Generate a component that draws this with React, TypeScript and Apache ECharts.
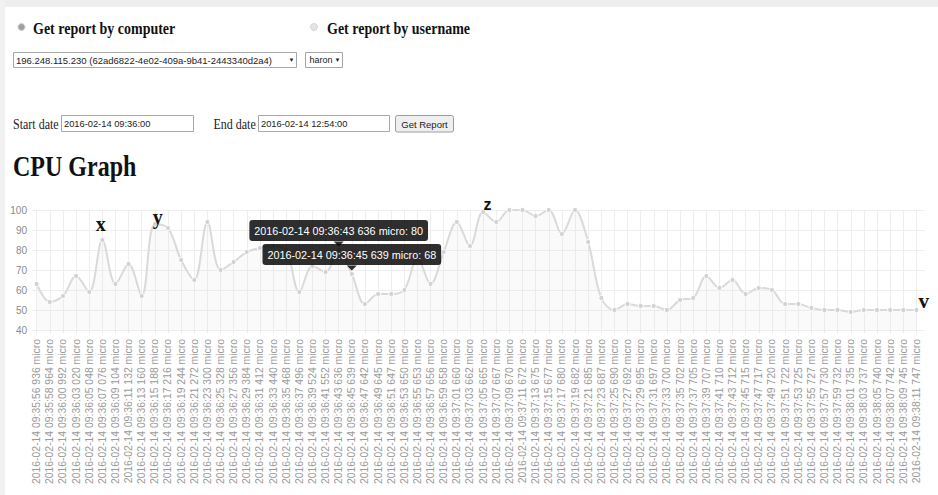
import React, { useEffect, useRef } from "react";
import * as echarts from "echarts";

const categories: string[] = [
  "2016-02-14 09:35:56 936 micro",
  "2016-02-14 09:35:58 964 micro",
  "2016-02-14 09:36:00 992 micro",
  "2016-02-14 09:36:03 020 micro",
  "2016-02-14 09:36:05 048 micro",
  "2016-02-14 09:36:07 076 micro",
  "2016-02-14 09:36:09 104 micro",
  "2016-02-14 09:36:11 132 micro",
  "2016-02-14 09:36:13 160 micro",
  "2016-02-14 09:36:15 188 micro",
  "2016-02-14 09:36:17 216 micro",
  "2016-02-14 09:36:19 244 micro",
  "2016-02-14 09:36:21 272 micro",
  "2016-02-14 09:36:23 300 micro",
  "2016-02-14 09:36:25 328 micro",
  "2016-02-14 09:36:27 356 micro",
  "2016-02-14 09:36:29 384 micro",
  "2016-02-14 09:36:31 412 micro",
  "2016-02-14 09:36:33 440 micro",
  "2016-02-14 09:36:35 468 micro",
  "2016-02-14 09:36:37 496 micro",
  "2016-02-14 09:36:39 524 micro",
  "2016-02-14 09:36:41 552 micro",
  "2016-02-14 09:36:43 636 micro",
  "2016-02-14 09:36:45 639 micro",
  "2016-02-14 09:36:47 642 micro",
  "2016-02-14 09:36:49 645 micro",
  "2016-02-14 09:36:51 647 micro",
  "2016-02-14 09:36:53 650 micro",
  "2016-02-14 09:36:55 653 micro",
  "2016-02-14 09:36:57 656 micro",
  "2016-02-14 09:36:59 658 micro",
  "2016-02-14 09:37:01 660 micro",
  "2016-02-14 09:37:03 662 micro",
  "2016-02-14 09:37:05 665 micro",
  "2016-02-14 09:37:07 667 micro",
  "2016-02-14 09:37:09 670 micro",
  "2016-02-14 09:37:11 672 micro",
  "2016-02-14 09:37:13 675 micro",
  "2016-02-14 09:37:15 677 micro",
  "2016-02-14 09:37:17 680 micro",
  "2016-02-14 09:37:19 682 micro",
  "2016-02-14 09:37:21 685 micro",
  "2016-02-14 09:37:23 687 micro",
  "2016-02-14 09:37:25 690 micro",
  "2016-02-14 09:37:27 692 micro",
  "2016-02-14 09:37:29 695 micro",
  "2016-02-14 09:37:31 697 micro",
  "2016-02-14 09:37:33 700 micro",
  "2016-02-14 09:37:35 702 micro",
  "2016-02-14 09:37:37 705 micro",
  "2016-02-14 09:37:39 707 micro",
  "2016-02-14 09:37:41 710 micro",
  "2016-02-14 09:37:43 712 micro",
  "2016-02-14 09:37:45 715 micro",
  "2016-02-14 09:37:47 717 micro",
  "2016-02-14 09:37:49 720 micro",
  "2016-02-14 09:37:51 722 micro",
  "2016-02-14 09:37:53 725 micro",
  "2016-02-14 09:37:55 727 micro",
  "2016-02-14 09:37:57 730 micro",
  "2016-02-14 09:37:59 732 micro",
  "2016-02-14 09:38:01 735 micro",
  "2016-02-14 09:38:03 737 micro",
  "2016-02-14 09:38:05 740 micro",
  "2016-02-14 09:38:07 742 micro",
  "2016-02-14 09:38:09 745 micro",
  "2016-02-14 09:38:11 747 micro",
];

const cpuValues: number[] = [
  63, 54, 57, 67, 59, 85, 63, 73, 57, 93,
  91, 75, 65, 94, 70, 74, 79, 81, 82, 80,
  59, 72, 69, 80, 68, 53, 58, 58, 60, 76,
  63, 79, 94, 82, 99, 94, 100, 100, 97, 100,
  88, 100, 84, 56, 50, 53, 52, 52, 50, 55,
  56, 67, 61, 65, 58, 61, 60, 53, 53, 51,
  50, 50, 49, 50, 50, 50, 50, 50,
];

const yMin = 40;
const yMax = 100;
const yStep = 10;

// indices of points whose hover tooltips are shown in the screenshot
const tooltipIndices: number[] = [23, 24];

const computerOption = "196.248.115.230 (62ad6822-4e02-409a-9b41-2443340d2a4)";
const userOption = "haron";
const startDate = "2016-02-14 09:36:00";
const endDate = "2016-02-14 12:54:00";

const SERIF = '"Liberation Serif", "Times New Roman", serif';
const SANS = '"Liberation Sans", Arial, Helvetica, sans-serif';

function txt(text: string, x: number, y: number, font: string, fill = "#111", extra: any = {}) {
  const align = extra.align || "left";
  const e = { ...extra };
  delete e.align;
  return {
    type: "text",
    x,
    y,
    z: 50,
    style: {
      text,
      font,
      fill,
      align,
      textAlign: align,
      verticalAlign: "middle",
      textVerticalAlign: "middle",
    },
    ...e,
  };
}

function box(x: number, y: number, w: number, h: number, fill: string, stroke: string, r = 0) {
  return {
    type: "rect",
    z: 40,
    shape: { x, y, width: w, height: h, r },
    style: { fill, stroke, lineWidth: 1 },
  };
}

export default function App() {
  const ref = useRef<HTMLDivElement>(null);

  useEffect(() => {
    if (!ref.current) return;
    const chart = echarts.init(ref.current, null, { renderer: "svg" });

    const seriesData = cpuValues.map((v, i) =>
      tooltipIndices.includes(i)
        ? {
            value: v,
            label: {
              show: true,
              position: "top",
              distance: 6,
              formatter: `${categories[i]}: ${v}`,
              backgroundColor: "rgba(0,0,0,0.82)",
              color: "#fff",
              fontSize: 10.8,
              fontFamily: SANS,
              lineHeight: 13,
              padding: [4, 5],
              borderRadius: 3,
            },
          }
        : v
    );

    const caretData = tooltipIndices.map((i) => ({
      coord: [categories[i], cpuValues[i]],
      symbol: "triangle",
      symbolRotate: 180,
      symbolSize: [10, 5],
      symbolOffset: [0, -6],
      itemStyle: { color: "rgba(0,0,0,0.82)" },
      label: { show: false },
    }));

    const stretch = { scaleY: 1.18 };

    const graphics: any[] = [
      { type: "rect", z: 1, shape: { x: 0, y: 0, width: 938, height: 7 }, style: { fill: "#eeeeee" } },
      { type: "rect", z: 1, shape: { x: 0, y: 0, width: 5, height: 495 }, style: { fill: "#f1f1f1" } },
      // radios
      { type: "circle", z: 40, shape: { cx: 21.5, cy: 27, r: 3.5 }, style: { fill: "#a0a0a0", stroke: "#d0d0d0", lineWidth: 1 } },
      { type: "circle", z: 40, shape: { cx: 314, cy: 27, r: 3.5 }, style: { fill: "#e4e4e4", stroke: "#d6d6d6", lineWidth: 1 } },
      txt("Get report by computer", 33, 28.5, `bold 14px ${SERIF}`, "#111", stretch),
      txt("Get report by username", 327, 28.5, `bold 14px ${SERIF}`, "#111", stretch),
      // selects
      box(13.5, 52.5, 283, 15, "#fff", "#a8a8a8"),
      txt(computerOption, 16, 60, `9.5px ${SANS}`, "#222"),
      txt("▼", 291.5, 60, `6px ${SANS}`, "#222", { align: "center" }),
      box(305.5, 52.5, 37, 15, "#fff", "#a8a8a8"),
      txt(userOption, 309.5, 60, `9px ${SANS}`, "#222"),
      txt("▼", 337.5, 60, `6px ${SANS}`, "#222", { align: "center" }),
      // dates
      txt("Start date", 13, 124, `12px ${SERIF}`, "#222", stretch),
      box(61.5, 115.5, 132, 16, "#fff", "#a8a8a8"),
      txt(startDate, 64, 123.5, `9.3px ${SANS}`, "#222"),
      txt("End date", 213.5, 124, `12px ${SERIF}`, "#222", stretch),
      box(258.5, 115.5, 131, 16, "#fff", "#a8a8a8"),
      txt(endDate, 261, 123.5, `9.3px ${SANS}`, "#222"),
      box(395.5, 115.5, 58, 16.5, "#efefef", "#9c9c9c", 2),
      txt("Get Report", 424.5, 124, `9.5px ${SANS}`, "#222", { align: "center" }),
      // heading
      txt("CPU Graph", 13, 166, `bold 24px ${SERIF}`, "#111", { scaleY: 1.22 }),
      // annotations drawn on the screenshot
      txt("x", 100.7, 223.8, `bold 20px ${SERIF}`, "#111", { align: "center", z: 100 }),
      txt("y", 157.7, 217, `bold 20px ${SERIF}`, "#111", { align: "center", z: 100 }),
      txt("z", 487.5, 204.3, `bold 16px ${SANS}`, "#111", { align: "center", z: 100 }),
      txt("v", 923.8, 300.8, `bold 21px ${SERIF}`, "#111", { align: "center", z: 100 }),
    ];

    const option: any = {
      animation: false,
      backgroundColor: "#ffffff",
      textStyle: { fontFamily: SANS },
      grid: [
        { left: 32, right: 13, top: 210, bottom: 165 },
        { left: 36.7, right: 21.6, top: 210, bottom: 165 },
      ],
      xAxis: [
        { type: "value", gridIndex: 0, min: 0, max: 1, show: false },
        {
          type: "category",
          gridIndex: 1,
          data: categories,
          boundaryGap: false,
          axisLine: { show: false },
          axisTick: { show: true, length: 3, alignWithLabel: true, lineStyle: { color: "#e8e8e8" } },
          splitLine: { show: true, lineStyle: { color: "#eeeeee", width: 1 } },
          axisLabel: {
            interval: 0,
            rotate: 90,
            margin: 9,
            fontSize: 10.4,
            color: "#9a9a9a",
            fontFamily: SANS,
          },
        },
      ],
      yAxis: [
        {
          type: "value",
          gridIndex: 0,
          min: yMin,
          max: yMax,
          interval: yStep,
          axisLine: { show: false },
          axisTick: { show: false },
          splitLine: { show: true, lineStyle: { color: "#eeeeee", width: 1 } },
          axisLabel: { color: "#8a8a8a", fontSize: 10, margin: 5, fontFamily: SANS },
        },
        {
          type: "value",
          gridIndex: 1,
          min: yMin,
          max: yMax,
          interval: yStep,
          show: false,
          splitLine: { show: false },
        },
      ],
      series: [
        {
          type: "line",
          xAxisIndex: 1,
          yAxisIndex: 1,
          data: seriesData,
          smooth: 0.35,
          symbol: "circle",
          symbolSize: 5,
          showSymbol: true,
          lineStyle: { color: "#dadada", width: 2 },
          itemStyle: { color: "#d2d2d2", borderColor: "#ffffff", borderWidth: 1 },
          areaStyle: { color: "rgba(220,220,220,0.2)" },
          label: { show: false },
          z: 5,
          markPoint: { data: caretData, z: 6, silent: true },
        },
      ],
      graphic: graphics,
    };

    chart.setOption(option);
    return () => chart.dispose();
  }, []);

  return (
    <div
      ref={ref}
      style={{ position: "fixed", left: 0, top: 0, width: 938, height: 495, background: "#fff" }}
    />
  );
}
